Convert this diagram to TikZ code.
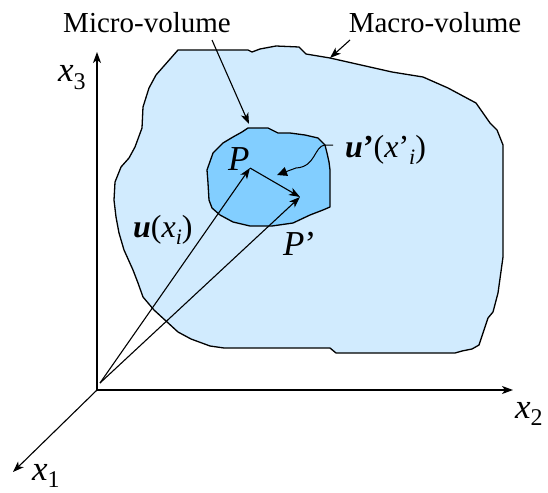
\documentclass[tikz,border=0pt]{standalone}
\usepackage{fontspec}
\setmainfont{LiberationSerif-Regular.ttf}[BoldFont=LiberationSerif-Bold.ttf, ItalicFont=LiberationSerif-Italic.ttf, BoldItalicFont=LiberationSerif-BoldItalic.ttf]
\usetikzlibrary{arrows.meta}
\definecolor{macrofill}{RGB}{209,235,254}
\definecolor{microfill}{RGB}{130,206,255}
\newcommand\lowsub[2]{\raisebox{-0.22em}{\fontsize{#1}{#1}\selectfont #2}}
\newcommand\sq{{\char"27}}
\begin{document}
\begin{tikzpicture}[x=1pt,y=-1pt,
  arr/.style={-{Stealth[length=11pt,width=8pt,inset=3pt]}, line width=1.1pt},
  outline/.style={line width=1.3pt, line join=round},
  txt/.style={inner sep=0pt, font=\fontsize{29}{34}\selectfont},
  axlbl/.style={inner sep=0pt, anchor=base west, font=\fontsize{35}{40}\selectfont},
  veclbl/.style={inner sep=0pt, anchor=base west, font=\fontsize{32}{36}\selectfont}]
\useasboundingbox (0,0) rectangle (548,492);
% macro-volume
\draw[outline, fill=macrofill] (178,50) -- (248,50) -- (252,52) -- (260,49) -- (276,46) -- (299,47) -- (306,54) -- (330,58) -- (392,72) -- (423,77) -- (448,88) -- (476,103) -- (490,123) -- (497,130) -- (503,145) -- (503,257) -- (498,293) -- (493,312) -- (488,318) -- (484,330) -- (479,345) -- (472,349) -- (462,351) -- (455,353) -- (336,353) -- (330,348) -- (224,348) -- (210,346) -- (191,339) -- (178,332) -- (154,310) -- (143,297) -- (138,283) -- (133,270) -- (124,250) -- (119,233) -- (116,217) -- (114,200) -- (115,182) -- (121,167) -- (129,158) -- (135,147) -- (142,128) -- (143,107) -- (149,88) -- (156,75) -- cycle;
% micro-volume
\draw[outline, fill=microfill] (248,128) -- (268,128) -- (278,133) -- (290,133) -- (305,135) -- (318,138) -- (325,145) -- (327,153) -- (329,162) -- (330,170) -- (330,183) -- (330,207) -- (323,210) -- (310,215) -- (293,223) -- (272,226) -- (250,226) -- (233,222) -- (220,215) -- (212,208) -- (209,200) -- (208,183) -- (207,170) -- (213,153) -- (223,143) -- (233,137) -- (242,132) -- cycle;
% coordinates
\coordinate (O) at (97,390);
\coordinate (X3) at (97,52);
\coordinate (X2) at (513,390);
\coordinate (X1) at (13,472);
\coordinate (V) at (100,383);
\coordinate (P) at (250,168);
\coordinate (PP) at (300,197);
\coordinate (MicA) at (212,40);
\coordinate (MicB) at (249,124);
\coordinate (MacA) at (350,40);
\coordinate (MacB) at (330,58);
\coordinate (T1) at (333,145);
\coordinate (T2) at (325,145);
\coordinate (T3) at (277,175);
% axes
\draw[arr] (O) -- (X3);
\draw[arr] (O) -- (X2);
\draw[arr] (O) -- (X1);
% vectors
\draw[arr] (V) -- (P);
\draw[arr] (V) -- (PP);
\draw[arr] (P) -- (PP);
% pointer arrows
\draw[arr] (MicA) -- (MicB);
\draw[arr] (MacA) -- (MacB);
\draw[line width=1pt, -{Triangle[length=10pt,width=9pt]}] (T1) -- (T2) .. controls (314,146) and (316,167) .. (296,168) -- (T3);
% labels
\node[txt, anchor=base] (micro) at (147,33) {Micro-volume};
\node[txt, anchor=base] (macro) at (435,33) {Macro-volume};
\node[axlbl] (lx3) at (58,82) {\textit{x}\lowsub{24}{3}};
\node[axlbl] (lx2) at (515,418) {\textit{x}\lowsub{24}{2}};
\node[axlbl] (lx1) at (32,480) {\textit{x}\lowsub{24}{1}};
\node[axlbl] (lP) at (228,170) {\textit{P}};
\node[axlbl] (lPP) at (283,255) {\textit{P}\sq};
\node[veclbl] (lu) at (133,237) {\textbf{\textit{u}}(\textit{x}\lowsub{22}{\textit{i}})};
\node[veclbl] (lup) at (345,157) {\textbf{\textit{u}\sq}(\textit{x}\sq\lowsub{22}{\textit{i}})};
\end{tikzpicture}
\end{document}
